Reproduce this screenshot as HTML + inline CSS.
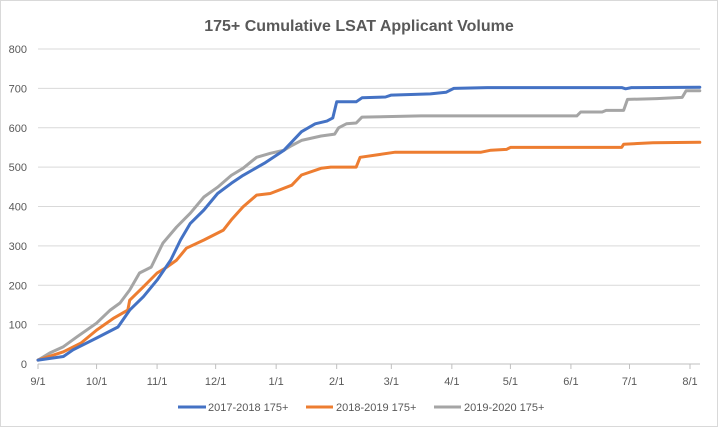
<!DOCTYPE html>
<html><head><meta charset="utf-8"><style>
body{margin:0;background:#fff;}
svg{display:block;font-family:"Liberation Sans",sans-serif;}
</style></head><body>
<svg id="chart" width="718" height="427">
<rect x="0.5" y="0.5" width="717" height="426" fill="#fff" stroke="#d9d9d9"/>
<text x="359" y="31" text-anchor="middle" font-size="16" font-weight="bold" fill="#595959">175+ Cumulative LSAT Applicant Volume</text>
<g id="grid"></g><g id="axes"></g><g id="lines"></g>
<g>
<line x1="178" y1="407" x2="206" y2="407" stroke="#4472c4" stroke-width="3"/>
<text x="208" y="411" font-size="11" fill="#595959">2017-2018 175+</text>
<line x1="306" y1="407" x2="333" y2="407" stroke="#ed7d31" stroke-width="3"/>
<text x="336" y="411" font-size="11" fill="#595959">2018-2019 175+</text>
<line x1="434" y1="407" x2="461" y2="407" stroke="#a5a5a5" stroke-width="3"/>
<text x="464" y="411" font-size="11" fill="#595959">2019-2020 175+</text>
</g>
</svg>
<script>
const yTicks=[0,100,200,300,400,500,600,700,800];
const xTickLabels=["9/1","10/1","11/1","12/1","1/1","2/1","3/1","4/1","5/1","6/1","7/1","8/1"];
const xTickDays=[0,30,61,91,122,153,181,212,242,273,303,334];
const blueDays=[0,13,18,30,41,47,54,61,68,73,78,85,92,99,105,116,126,135,142,148,151,153,163,166,178,181,201,209,213,230,299,301,304,339];
const blueVals=[10,19,36,66,94,137,171,213,264,315,357,391,433,459,479,510,543,590,610,617,625,666,666,676,678,683,686,690,700,702,702,699,702,703];
const orangeDays=[0,13,22,30,39,46,47,54,61,66,71,76,85,95,99,105,112,119,130,135,145,150,163,165,175,183,227,232,240,242,299,300,315,339];
const orangeVals=[10,31,53,86,117,137,162,196,231,246,264,294,315,340,366,399,429,433,454,480,497,500,500,525,532,538,538,543,545,550,550,558,562,563];
const grayDays=[0,6,13,20,30,37,42,47,52,58,64,71,78,85,92,99,105,112,119,126,130,135,145,152,154,158,163,166,196,276,278,289,291,300,302,317,330,332,339];
const grayVals=[10,28,44,69,104,137,155,188,231,246,307,348,383,424,449,479,497,525,535,543,555,568,579,584,600,610,612,627,630,630,640,640,644,644,672,674,677,694,694];

const NS="http://www.w3.org/2000/svg";
const X0=38,X1=700,Y0=364,Y1=49;
function xs(d){return X0+d*(690-38)/334;}
function ys(v){return Y0-(v/800)*(Y0-Y1);}
function mk(tag,attrs,parent){const e=document.createElementNS(NS,tag);for(const k in attrs)e.setAttribute(k,attrs[k]);parent.appendChild(e);return e;}
const grid=document.getElementById('grid'),axes=document.getElementById('axes'),lines=document.getElementById('lines');
yTicks.forEach(v=>{
  if(v>0){const g=mk('line',{x1:X0,x2:X1,y1:ys(v),y2:ys(v),stroke:'#d9d9d9','stroke-width':1},grid);
  
  }
  const t=mk('text',{x:27,y:ys(v)+4,'text-anchor':'end','font-size':11,fill:'#595959'},axes);
  t.textContent=v;
  
  
});
const ax=mk('line',{x1:X0,x2:X1,y1:Y0,y2:Y0,stroke:'#bfbfbf','stroke-width':1},axes);


xTickLabels.forEach((l,i)=>{
  const x=xs(xTickDays[i]);
  const tk=mk('line',{x1:x,x2:x,y1:Y0,y2:Y0+5,stroke:'#bfbfbf'},axes);
  
  
  const t=mk('text',{x:x,y:385,'text-anchor':'middle','font-size':11,fill:'#595959'},axes);
  t.textContent=l;
  
  
});
function series(days,vals,color,name){
  const p=days.map((d,i)=>xs(d).toFixed(1)+','+ys(vals[i]).toFixed(1)).join(' ');
  const e=mk('polyline',{points:p,fill:'none',stroke:color,'stroke-width':3,'stroke-linejoin':'round','stroke-linecap':'round'},lines);
  
  
}
series(grayDays,grayVals,'#a5a5a5','series-2019-2020');
series(orangeDays,orangeVals,'#ed7d31','series-2018-2019');
series(blueDays,blueVals,'#4472c4','series-2017-2018');
</script>
</body></html>
